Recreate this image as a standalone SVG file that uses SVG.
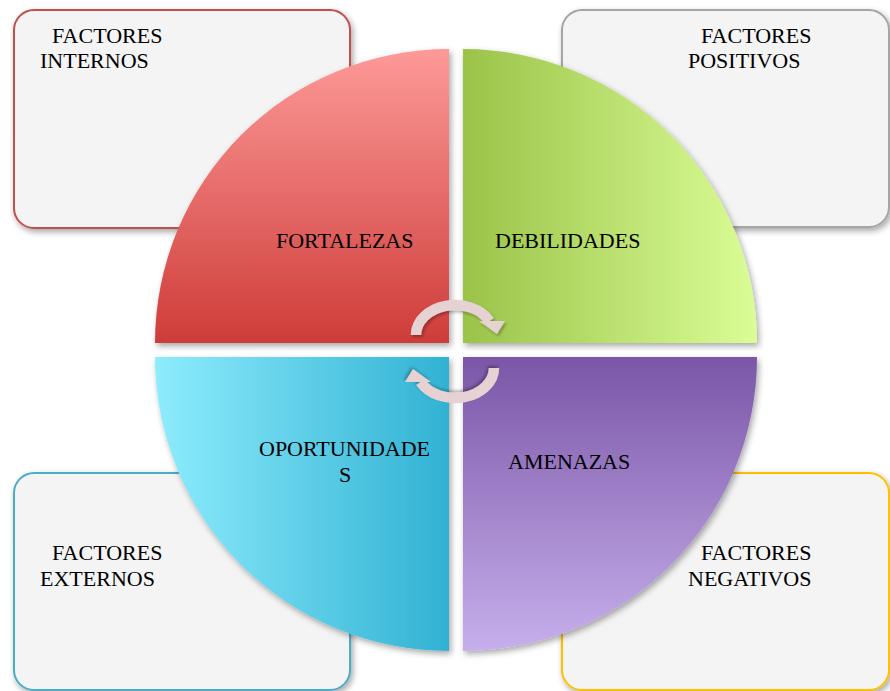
<svg xmlns="http://www.w3.org/2000/svg" width="890" height="691" viewBox="0 0 890 691">
<defs>
<filter id="sh" x="-10%" y="-10%" width="125%" height="125%"><feDropShadow dx="2" dy="3" stdDeviation="3" flood-color="#000" flood-opacity="0.35"/></filter>
<filter id="sh2" x="-20%" y="-20%" width="150%" height="150%"><feDropShadow dx="1.5" dy="2" stdDeviation="1.5" flood-color="#000" flood-opacity="0.3"/></filter>
<linearGradient id="gRed" x1="0" y1="0" x2="0" y2="1"><stop offset="0" stop-color="#FD9A98"/><stop offset="1" stop-color="#CE3C39"/></linearGradient>
<linearGradient id="gGreen" x1="0" y1="0" x2="1" y2="0"><stop offset="0" stop-color="#9BC349"/><stop offset="1" stop-color="#DAFD95"/></linearGradient>
<linearGradient id="gBlue" x1="0" y1="0" x2="1" y2="0"><stop offset="0" stop-color="#8EECFD"/><stop offset="1" stop-color="#31B2D3"/></linearGradient>
<linearGradient id="gPurple" x1="0" y1="0" x2="0" y2="1"><stop offset="0" stop-color="#7B56A7"/><stop offset="1" stop-color="#C6AFEC"/></linearGradient>
</defs>
<style>
.box{fill:#F4F4F4;stroke-width:2;filter:url(#sh)}
.t{font-family:"Liberation Serif","Times New Roman",serif;font-size:22px;fill:#000}
.arr{fill:none;stroke:#E6D2D2;stroke-width:10.5}
.ah{fill:#E6D2D2}
</style>
<rect width="890" height="691" fill="#fff"/>
<g id="box-internos"><rect class="box" x="14" y="10" width="336" height="218" rx="20" stroke="#C0504D"/>
<text class="t" x="52" y="43">FACTORES</text><text class="t" x="40" y="68">INTERNOS</text></g>
<g id="box-positivos"><rect class="box" x="562" y="10" width="327" height="217" rx="20" stroke="#A5A5A5"/>
<text class="t" x="701" y="43">FACTORES</text><text class="t" x="688" y="68">POSITIVOS</text></g>
<g id="box-externos"><rect class="box" x="14" y="473" width="336" height="217" rx="20" stroke="#4BACC6"/>
<text class="t" x="52" y="560">FACTORES</text><text class="t" x="40" y="586">EXTERNOS</text></g>
<g id="box-negativos"><rect class="box" x="562" y="473" width="327" height="217" rx="20" stroke="#FFC000"/>
<text class="t" x="701" y="560">FACTORES</text><text class="t" x="688" y="586">NEGATIVOS</text></g>
<g id="fortalezas"><path d="M449,343 L155,343 A294,294 0 0 1 449,49 Z" fill="url(#gRed)" filter="url(#sh)"/>
<text class="t" x="276" y="248">FORTALEZAS</text></g>
<g id="debilidades"><path d="M463,343 L463,49 A294,294 0 0 1 757,343 Z" fill="url(#gGreen)" filter="url(#sh)"/>
<text class="t" x="495" y="248">DEBILIDADES</text></g>
<g id="oportunidades"><path d="M449,357 L449,651 A294,294 0 0 1 155,357 Z" fill="url(#gBlue)" filter="url(#sh)"/>
<text class="t" x="259" y="456">OPORTUNIDADE</text><text class="t" x="339" y="482">S</text></g>
<g id="amenazas"><path d="M463,357 L757,357 A294,294 0 0 1 463,651 Z" fill="url(#gPurple)" filter="url(#sh)"/>
<text class="t" x="508" y="469">AMENAZAS</text></g>
<g id="connectors">
<g filter="url(#sh2)"><path class="arr" d="M416,335 A39,30 0 0 1 489.5,321"/><polygon class="ah" points="479,321 505,321 497,334"/></g>
<g filter="url(#sh2)" transform="rotate(180 455 351.5)"><path class="arr" d="M416,335 A39,30 0 0 1 489.5,321"/><polygon class="ah" points="479,321 505,321 497,334"/></g>
</g>
</svg>
